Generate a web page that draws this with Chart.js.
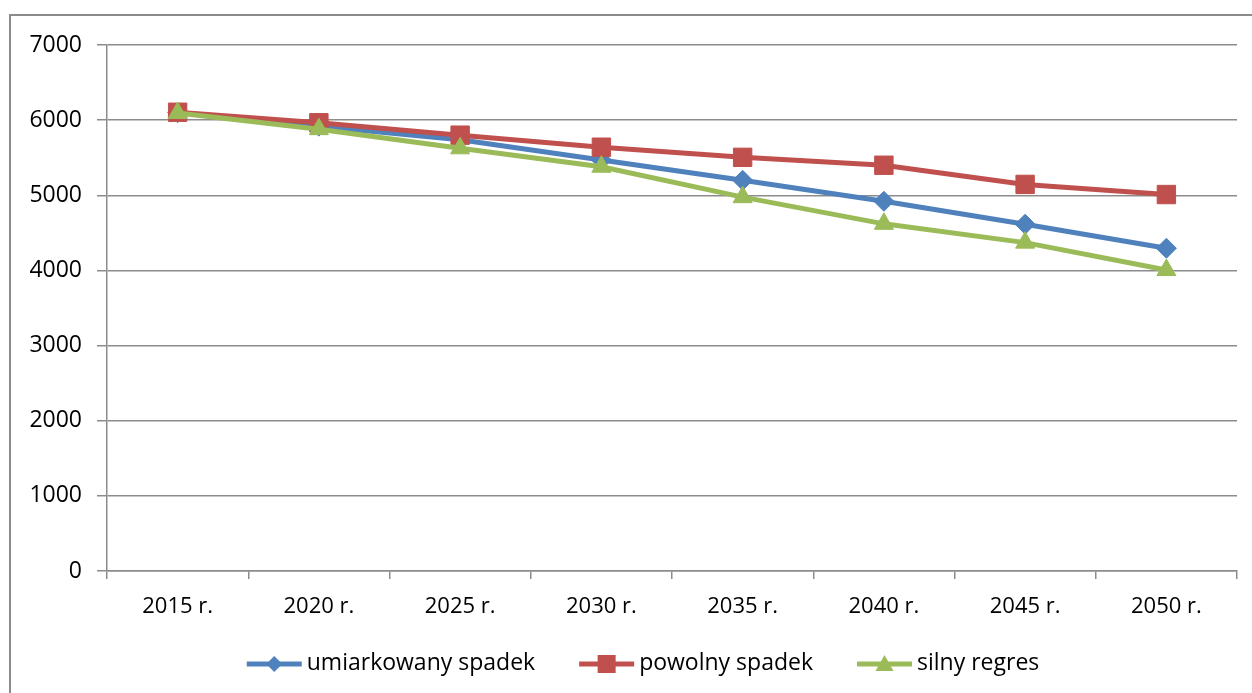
<!DOCTYPE html>
<html>
<head>
<meta charset="utf-8">
<script src="https://cdn.jsdelivr.net/npm/chart.js@4"></script>
<style>
  html, body { margin: 0; padding: 0; background: #fff; overflow: hidden; }
  #wrap { position: absolute; left: 0; top: 0; width: 1252px; height: 693px; }
  #frame { position: absolute; left: 9px; top: 14px; width: 1400px; height: 800px; border: 2px solid #8b8b8b; }
</style>
</head>
<body>
<div id="frame"></div>
<div id="wrap"><canvas id="myChart" width="1252" height="693"></canvas></div>
<script>
const labels = ['2015 r.', '2020 r.', '2025 r.', '2030 r.', '2035 r.', '2040 r.', '2045 r.', '2050 r.'];
const umiarkowany = [6100, 5920, 5740, 5470, 5200, 4920, 4615, 4295];
const powolny = [6105, 5965, 5800, 5640, 5505, 5400, 5145, 5010];
const silny = [6095, 5880, 5625, 5380, 4975, 4620, 4370, 4005];
const seriesNames = ['umiarkowany spadek', 'powolny spadek', 'silny regres'];
const yTicks = [0, 1000, 2000, 3000, 4000, 5000, 6000, 7000];

const blue = '#4f81bd', red = '#c0504d', green = '#9bbb59';
const FONT = '"Open Sans"';

// little line+marker picture, like the Excel legend keys
function drawKey(g, x, y, color, shape) {
  g.save();
  g.strokeStyle = color; g.fillStyle = color; g.lineWidth = 5;
  g.beginPath(); g.moveTo(x, y); g.lineTo(x + 55, y); g.stroke();
  const cx = x + 27.5;
  g.beginPath();
  if (shape === 'rectRot') {
    g.moveTo(cx, y - 8); g.lineTo(cx + 8, y); g.lineTo(cx, y + 8); g.lineTo(cx - 8, y);
  } else if (shape === 'rect') {
    g.rect(cx - 9, y - 9, 18, 18);
  } else {
    g.moveTo(cx, y - 9); g.lineTo(cx + 9, y + 7); g.lineTo(cx - 9, y + 7);
  }
  g.closePath(); g.fill();
  g.restore();
}

const excelLegend = {
  id: 'excelLegend',
  afterDraw(chart) {
    const g = chart.ctx;
    const sets = chart.data.datasets;
    g.save();
    g.font = '23px ' + FONT;
    g.textBaseline = 'middle';
    g.fillStyle = '#000';
    const widths = sets.map(d => 60 + g.measureText(d.label).width);
    const total = widths.reduce((a, b) => a + b, 0) + 44 * (sets.length - 1);
    let x = 643 - total / 2;
    const y = 664;
    sets.forEach((d, i) => {
      drawKey(g, x, y, d.borderColor, d.pointStyle);
      g.fillText(d.label, x + 60, y - 1);
      x += widths[i] + 44;
    });
    g.restore();
  }
};

const ctx = document.getElementById('myChart');
new Chart(ctx, {
  type: 'line',
  data: {
    labels: labels,
    datasets: [
      {label: seriesNames[0], data: umiarkowany, borderColor: blue, backgroundColor: blue,
       borderWidth: 5, pointStyle: 'rectRot', pointRadius: 10, pointBorderWidth: 1, order: 2},
      {label: seriesNames[1], data: powolny, borderColor: red, backgroundColor: red,
       borderWidth: 5, pointStyle: 'rect', pointRadius: 13, pointBorderWidth: 1, order: 1},
      {label: seriesNames[2], data: silny, borderColor: green, backgroundColor: green,
       borderWidth: 5, pointStyle: 'triangle', pointRadius: 11, pointBorderWidth: 1, order: 0},
    ]
  },
  options: {
    responsive: false,
    animation: false,
    layout: {padding: {left: 0, top: 45, right: 15, bottom: 72}},
    plugins: {
      tooltip: {enabled: false},
      legend: {display: false}
    },
    scales: {
      x: {
        offset: true,
        afterFit: s => { s.height = 50; },
        grid: {drawOnChartArea: false, drawTicks: true, tickLength: 8, color: '#8c8c8c', lineWidth: 1.5, offset: true},
        border: {color: '#8c8c8c', width: 1.5},
        ticks: {color: '#000', font: {family: FONT, size: 22}, padding: 15, maxRotation: 0}
      },
      y: {
        min: 0,
        max: 7000,
        afterFit: s => { s.width = 107; },
        afterBuildTicks: s => { s.ticks = yTicks.map(v => ({value: v})); },
        grid: {color: '#8c8c8c', lineWidth: 1.5, tickLength: 10},
        border: {color: '#8c8c8c', width: 1.5},
        ticks: {color: '#000', font: {family: FONT, size: 23}, padding: 15, callback: v => String(v)}
      }
    }
  },
  plugins: [excelLegend]
});
</script>
</body>
</html>
